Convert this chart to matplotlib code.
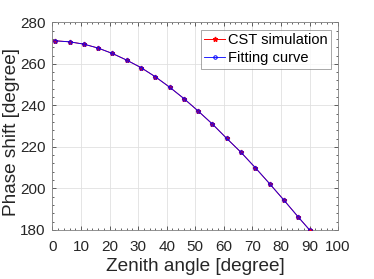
import matplotlib
matplotlib.use("Agg")
import matplotlib.pyplot as plt
from matplotlib.ticker import MultipleLocator

zenith = [1, 6, 11, 16, 21, 26, 31, 36, 41, 46, 51, 56, 61, 66, 71, 76, 81, 86, 90]
cst = [271.1, 270.6, 269.5, 267.6, 265.0, 261.8, 258.2, 253.8, 248.8, 243.3,
       237.3, 231.0, 224.1, 217.4, 210.0, 202.3, 194.4, 186.3, 180.0]
fit = [271.1, 270.6, 269.5, 267.6, 265.0, 261.8, 258.2, 253.8, 248.8, 243.3,
       237.3, 231.0, 224.1, 217.4, 210.0, 202.3, 194.4, 186.3, 180.0]
xticks = [0, 10, 20, 30, 40, 50, 60, 70, 80, 90, 100]
yticks = [180, 200, 220, 240, 260, 280]

plt.rcParams['font.family'] = ['Liberation Sans', 'DejaVu Sans']
txt = '#262626'
fig = plt.figure(figsize=(3.74, 2.79), dpi=100)
ax = fig.add_axes([0.140, 0.176, 0.764, 0.744])

ax.plot(zenith, cst, color='red', marker='*', markersize=3.5, linewidth=0.7,
        label='CST simulation', zorder=3)
ax.plot(zenith, fit, color='blue', marker='o', markersize=2.5, markerfacecolor='none',
        markeredgewidth=0.7, linewidth=0.6, label='Fitting curve', zorder=4)

ax.set_xlim(0, 100)
ax.set_ylim(180, 280)
ax.set_xticks(xticks)
ax.set_yticks(yticks)
ax.xaxis.set_minor_locator(MultipleLocator(2))
ax.yaxis.set_minor_locator(MultipleLocator(4))
ax.tick_params(which='both', direction='in', top=True, right=True, colors=txt,
               labelsize=11, width=0.5)
ax.tick_params(which='major', length=3)
ax.tick_params(which='minor', length=1.5)
ax.tick_params(axis='x', pad=7)
ax.tick_params(axis='y', pad=5)
ax.grid(True, which='major', color='#e0e0e0', linewidth=0.6)
ax.set_axisbelow(True)
for s in ax.spines.values():
    s.set_color('#808080')
    s.set_linewidth(0.6)

ax.set_xlabel('Zenith angle [degree]', fontsize=13.7, color=txt, labelpad=3)
ax.set_ylabel('Phase shift [degree]', fontsize=13.7, color=txt,
              family=['Liberation Sans Narrow', 'Liberation Sans', 'DejaVu Sans'])
ax.yaxis.set_label_coords(-0.113, 0.47)

leg = ax.legend(loc='upper right', fontsize=10.5, frameon=True, fancybox=False,
                handlelength=1.45, handletextpad=0.15, borderpad=0.25,
                labelspacing=0.25, borderaxespad=0.5)
leg.get_frame().set_edgecolor('#808080')
leg.get_frame().set_linewidth(0.6)
for t in leg.get_texts():
    t.set_color('black')

fig.savefig('out.png', dpi=100)
